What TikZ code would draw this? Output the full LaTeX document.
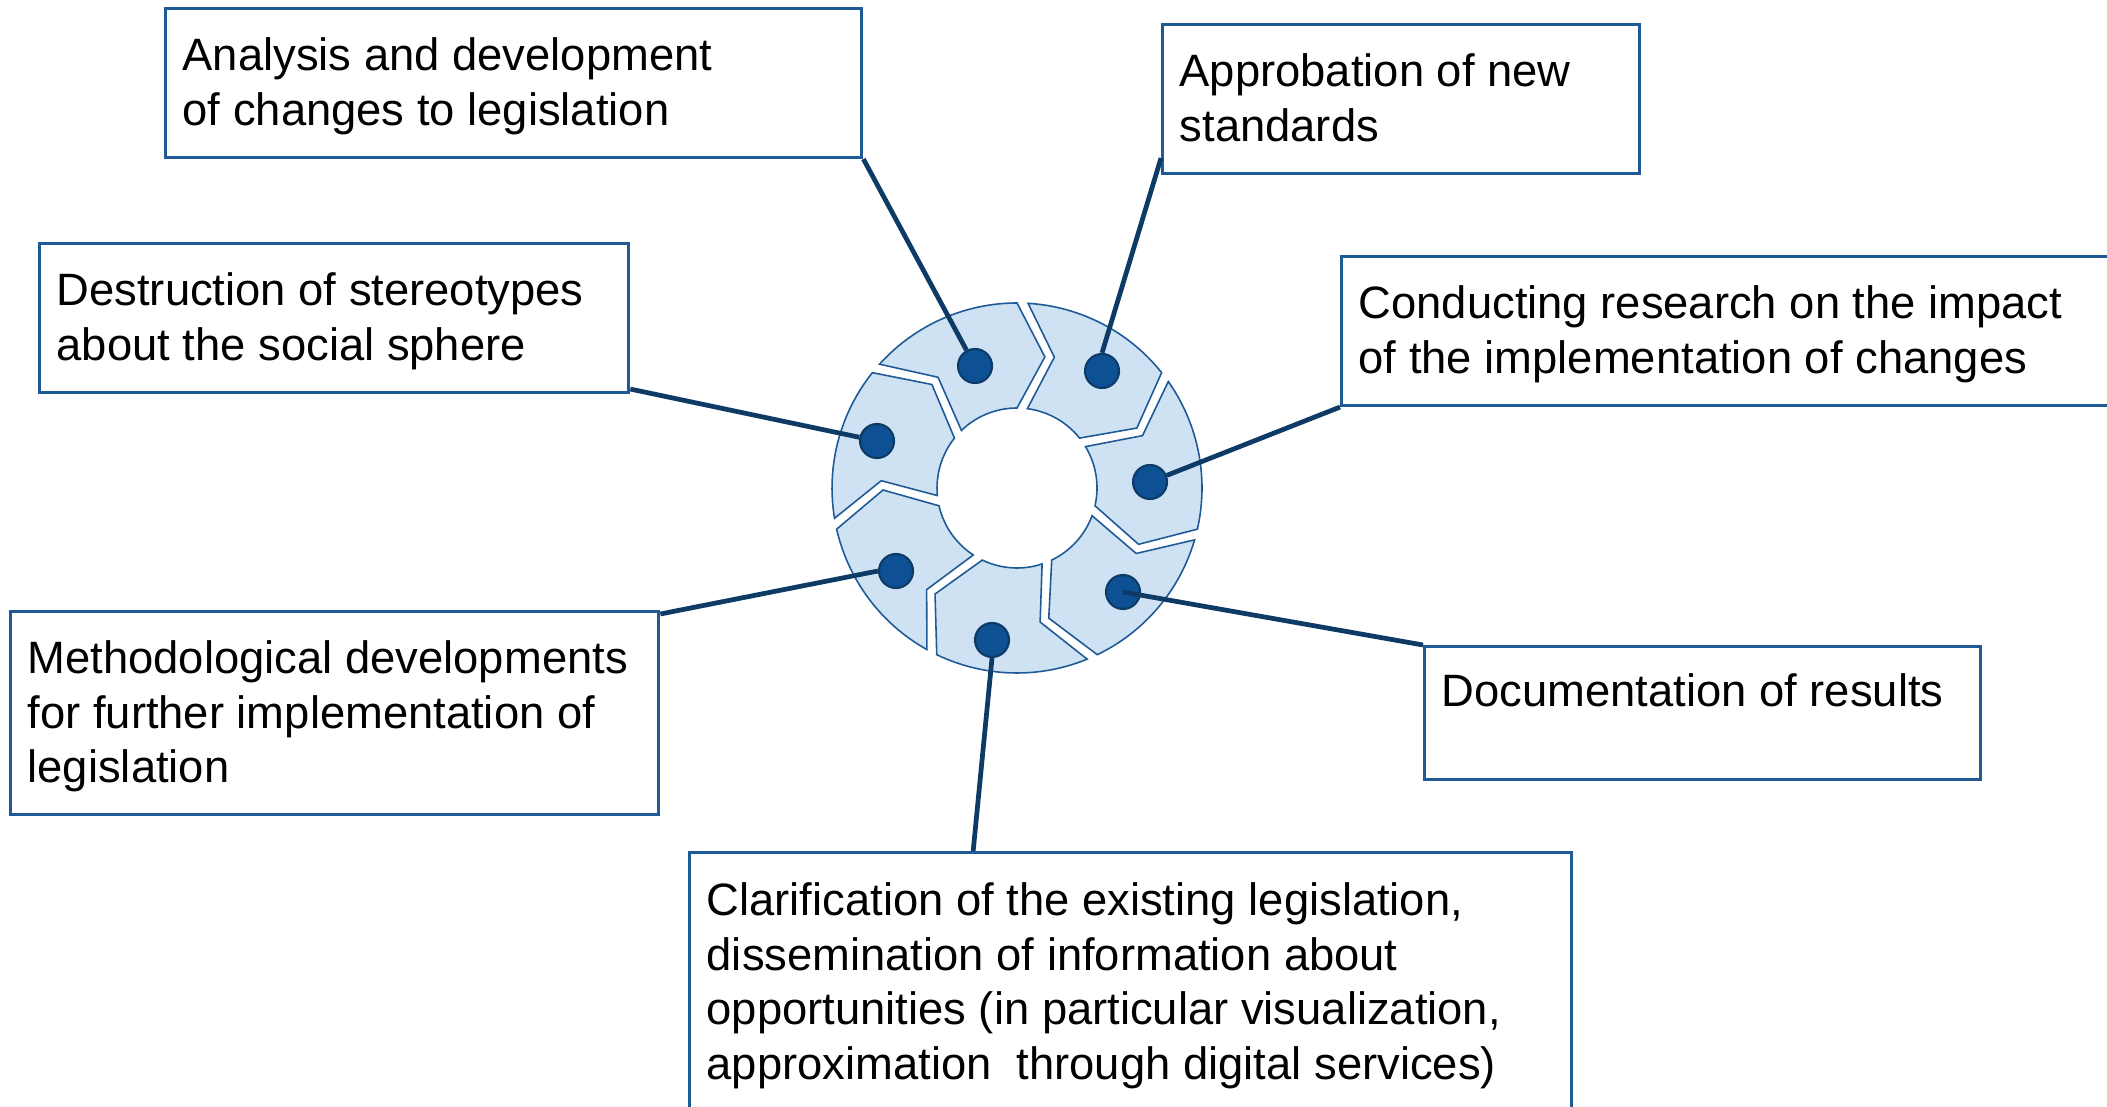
\documentclass[tikz,border=0pt]{standalone}
\usepackage{fontspec}
\setmainfont{Liberation Sans}

\definecolor{boxblue}{HTML}{1F5A96}
\definecolor{linenavy}{HTML}{0E3A66}
\definecolor{segfill}{HTML}{CFE2F3}
\definecolor{dotblue}{HTML}{0D5094}

\tikzset{
  box/.style={draw=boxblue, line width=0.85pt, fill=white, anchor=north west, inner sep=0pt},
  txt/.style={anchor=north west, inner sep=0pt, align=left, font=\fontsize{12.9pt}{15.5pt}\selectfont},
  seg/.style={draw=boxblue, line width=0.45pt, fill=segfill},
  dot/.style={circle, fill=dotblue, draw=linenavy, line width=0.6pt, minimum size=0.34cm, inner sep=0pt},
  link/.style={draw=linenavy, line width=1.35pt},
}

\begin{document}
\begin{tikzpicture}[x=0.01cm, y=-0.01cm]
  \useasboundingbox (0,0) rectangle (2107,1107);
  \clip (0,0) rectangle (2107,1107);

  % boxes
  \node[box, minimum width=6.96cm, minimum height=1.49cm] (ana) at (164,7) {};
  \node[box, minimum width=4.77cm, minimum height=1.49cm] (app) at (1161,23) {};
  \node[box, minimum width=5.89cm, minimum height=1.49cm] (des) at (38,242) {};
  \node[box, minimum width=8.00cm, minimum height=1.49cm] (con) at (1340,255) {};
  \node[box, minimum width=6.48cm, minimum height=2.03cm] (met) at (9,610) {};
  \node[box, minimum width=5.56cm, minimum height=1.33cm] (doc) at (1423,645) {};
  \node[box, minimum width=8.81cm, minimum height=3.00cm] (cla) at (688,851) {};

  % texts
  \node[txt] (anat) at ([shift={(18,30)}]ana.north west) {Analysis and development\\of changes to legislation};
  \node[txt] (appt) at ([shift={(18,30)}]app.north west) {Approbation of new\\standards};
  \node[txt] (dest) at ([shift={(18,30)}]des.north west) {Destruction of stereotypes\\about the social sphere};
  \node[txt] (cont) at ([shift={(18,30)}]con.north west) {Conducting research on the impact\\of the implementation of changes};
  \node[txt] (mett) at ([shift={(18,30)}]met.north west) {Methodological developments\\for further implementation of\\legislation};
  \node[txt] (doct) at ([shift={(18,28)}]doc.north west) {Documentation of results};
  \node[txt] (clat) at ([shift={(18,31)}]cla.north west) {Clarification of the existing legislation,\\dissemination of information about\\opportunities (in particular visualization,\\approximation\ \ through digital services)};

  % ring of chevrons
  \begin{scope}[shift={(1017,488)}, yscale=-1]
    \foreach \k in {0,...,6} {
      \pgfmathsetmacro\lead{90-51.4286*\k}
      \draw[seg] ({\lead+48}:185) arc[start angle=\lead+48, end angle=\lead, radius=185]
        -- ({\lead-12}:134) -- (\lead:80) arc[start angle=\lead, end angle=\lead+44, radius=80]
        -- ({\lead+35.5}:136) -- cycle;
    }
  \end{scope}

  % dots
  \node[dot] (anad) at (975,366) {};
  \node[dot] (appd) at (1102,371) {};
  \node[dot] (cond) at (1150,482) {};
  \node[dot] (docd) at (1123,592) {};
  \node[dot] (clad) at (992,640) {};
  \node[dot] (metd) at (896,571) {};
  \node[dot] (desd) at (877,441) {};

  % connectors
  \draw[link] (ana.south east) -- (anad);
  \draw[link] ([yshift=0.05cm]des.south east) -- (desd);
  \draw[link] (con.south west) -- (cond);
  \draw[link] ([yshift=0.17cm]app.south west) -- (appd.north);
  \draw[link] (doc.north west) -- (docd.center);
  \draw[link] ([xshift=2.85cm]cla.north west) -- (clad.south);
  \draw[link] ([yshift=-0.04cm]met.north east) -- (metd.west);
\end{tikzpicture}
\end{document}
